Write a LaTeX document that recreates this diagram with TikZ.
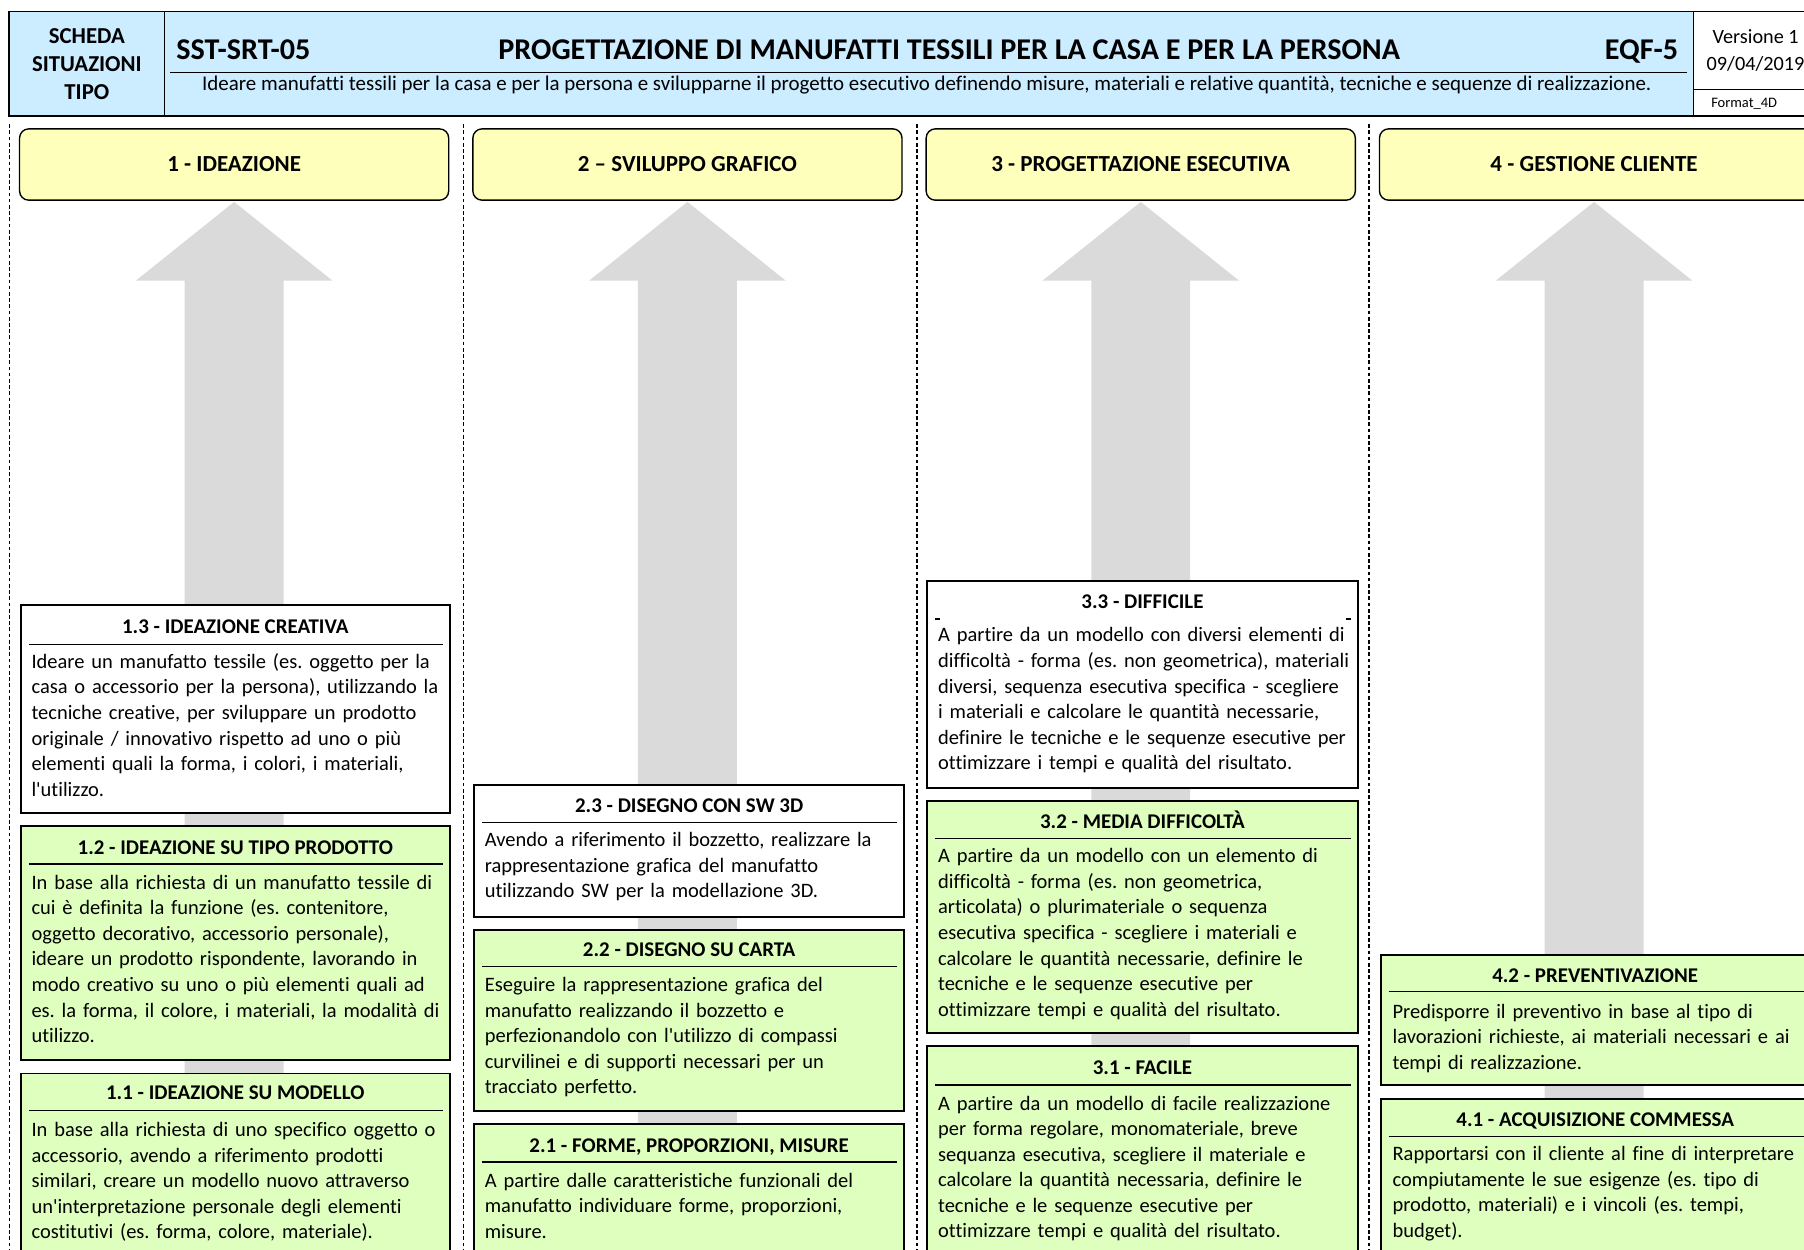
\documentclass[tikz,border=0pt]{standalone}
\usepackage{fontspec}
\defaultfontfeatures{}
\defaultfontfeatures[\rmfamily]{}
\setmainfont{Carlito}[Ligatures={NoCommon,NoContextual}]
\usetikzlibrary{positioning,fit}
\definecolor{hc}{RGB}{204,236,255}
\definecolor{yc}{RGB}{255,255,188}
\definecolor{gc}{RGB}{223,255,191}
\definecolor{ag}{RGB}{218,218,218}
\tikzset{stagebox/.style={draw,line width=.8pt,inner sep=0pt},
 wbox/.style={stagebox,fill=white},gbox/.style={stagebox,fill=gc},
 phase/.style={draw,line width=.6pt,fill=yc,rounded corners=4pt,inner sep=0pt},
 phtxt/.style={font=\fontsize{10}{12}\selectfont\bfseries},
 hdr/.style={draw,line width=.7pt,fill=hc,inner sep=0pt},
 ttl/.style={anchor=base,inner sep=0pt,font=\fontsize{9.1}{11}\selectfont\bfseries},
 body/.style={anchor=base west,align=left,text width=200pt,inner sep=0pt,font=\fontsize{8.9}{11.1}\selectfont},
 big/.style={inner sep=0pt,font=\fontsize{13.1}{15}\selectfont\bfseries},
 rule/.style={line width=.6pt},
 sep/.style={line width=.6pt,dash pattern=on 1.6pt off 1.1pt},
 every node/.style={inner sep=0pt}}
\frenchspacing
\begin{document}
\begin{tikzpicture}[x=.5pt,y=-.5pt]
\useasboundingbox (0,0) rectangle (1568,1086);
% header
\node[hdr,fit={(8,10) (143,101)}] (sch) {};
\node[hdr,fit={(143,10) (1472,101)}] (tit) {};
\node[hdr,fill=white,fit={(1472,10) (1600,101)}] (ver) {};
\draw[rule] (148,63)--(1466,63);\draw[rule] (1472,78)--(1600,78);
\node[align=center,font=\fontsize{9.9}{12.2}\selectfont\bfseries] (schtxt) at (sch) {SCHEDA\\SITUAZIONI\\TIPO};
\node[big,anchor=base west] (code) at (153,51.5) {SST-SRT-05};
\node[big,anchor=base] (title) at (825,51.5) {PROGETTAZIONE DI MANUFATTI TESSILI PER LA CASA E PER LA PERSONA};
\node[big,anchor=base east] (eqf) at (1459,51.5) {EQF-5};
\node[anchor=base,font=\fontsize{9.1}{10}\selectfont] (sub) at (805.5,78.5) {Ideare manufatti tessili per la casa e per la persona e svilupparne il progetto esecutivo definendo misure, materiali e relative quantità, tecniche e sequenze di realizzazione.};
\node[anchor=base,font=\fontsize{8.8}{10}\selectfont] (vers) at (1526,37.5) {Versione 1};
\node[anchor=base west,font=\fontsize{8.8}{10}\selectfont] (date) at (1483,61) {09/04/2019};
\node[anchor=base,font=\fontsize{6.3}{8}\selectfont] (fmt) at (1516,93.5) {Format\_4D};
% column separators and arrows
\foreach \sx in {8,403,797,1190} \draw[sep] (\sx,108)--(\sx,1090);
\foreach \cx in {203.5,597.5,991.5,1385.5}
 \fill[ag] (\cx-43,1090)--(\cx-43,244)--(\cx-85.5,244)--(\cx,175.5)--(\cx+85.5,244)--(\cx+43,244)--(\cx+43,1090)--cycle;
% phases
\node[phase,fit={(17,112) (390,174)}] (p1) {};\node[phtxt] (p1t) at (p1) {1 - IDEAZIONE};
\node[phase,fit={(411,112) (784,174)}] (p2) {};\node[phtxt] (p2t) at (p2) {2 – SVILUPPO GRAFICO};
\node[phase,fit={(805,112) (1178,174)}] (p3) {};\node[phtxt] (p3t) at (p3) {3 - PROGETTAZIONE ESECUTIVA};
\node[phase,fit={(1199,112) (1600,174)}] (p4) {};\node[phtxt] (p4t) at (1385.5,143) {4 - GESTIONE CLIENTE};
% column 1
\node[wbox,fit={(18,526) (391,707)}] (b13) {};
\node[ttl] (t13) at (204.5,551) {1.3 - IDEAZIONE CREATIVA};\draw[rule] (25,560)--(385,560);
\node[body] (x13) at (27,581) {Ideare un manufatto tessile (es. oggetto per la\\casa o accessorio per la persona), utilizzando la\\tecniche creative, per sviluppare un prodotto\\originale / innovativo rispetto ad uno o più\\elementi quali la forma, i colori, i materiali,\\l'utilizzo.};
\node[gbox,fit={(18,718) (391,921)}] (b12) {};
\node[ttl] (t12) at (204.5,743) {1.2 - IDEAZIONE SU TIPO PRODOTTO};\draw[rule] (25,751)--(385,751);
\node[body] (x12) at (27,773) {In base alla richiesta di un manufatto tessile di\\cui è definita la funzione (es. contenitore,\\oggetto decorativo, accessorio personale),\\ideare un prodotto rispondente, lavorando in\\modo creativo su uno o più elementi quali ad\\es. la forma, il colore, i materiali, la modalità di\\utilizzo.};
\node[gbox,fit={(18,933) (391,1095)}] (b11) {};
\node[ttl] (t11) at (204.5,956) {1.1 - IDEAZIONE SU MODELLO};\draw[rule] (25,965)--(385,965);
\node[body] (x11) at (27,988) {In base alla richiesta di uno specifico oggetto o\\accessorio, avendo a riferimento prodotti\\similari, creare un modello nuovo attraverso\\un'interpretazione personale degli elementi\\costitutivi (es. forma, colore, materiale).};
% column 2
\node[wbox,fit={(412,682) (786,797)}] (b23) {};
\node[ttl] (t23) at (599,706) {2.3 - DISEGNO CON SW 3D};\draw[rule] (419,715)--(780,715);
\node[body] (x23) at (421,736) {Avendo a riferimento il bozzetto, realizzare la\\rappresentazione grafica del manufatto\\utilizzando SW per la modellazione 3D.};
\node[gbox,fit={(412,808) (786,966)}] (b22) {};
\node[ttl] (t22) at (599,831) {2.2 - DISEGNO SU CARTA};\draw[rule] (419,840)--(780,840);
\node[body] (x22) at (421,862) {Eseguire la rappresentazione grafica del\\manufatto realizzando il bozzetto e\\perfezionandolo con l'utilizzo di compassi\\curvilinei e di supporti necessari per un\\tracciato perfetto.};
\node[gbox,fit={(412,977) (786,1095)}] (b21) {};
\node[ttl] (t21) at (599,1002) {2.1 - FORME, PROPORZIONI, MISURE};\draw[rule] (419,1010)--(780,1010);
\node[body] (x21) at (421,1032) {A partire dalle caratteristiche funzionali del\\manufatto individuare forme, proporzioni,\\misure.};
% column 3
\node[wbox,fit={(806,505) (1180,685)}] (b33) {};
\node[ttl] (t33) at (993,529) {3.3 - DIFFICILE};\draw[rule] (813,538)--(817,538);\draw[rule] (1170,538)--(1174,538);
\node[body] (x33) at (815,558) {A partire da un modello con diversi elementi di\\difficoltà - forma (es. non geometrica), materiali\\diversi, sequenza esecutiva specifica - scegliere\\i materiali e calcolare le quantità necessarie,\\definire le tecniche e le sequenze esecutive per\\ottimizzare i tempi e qualità del risultato.};
\node[gbox,fit={(806,696) (1180,898)}] (b32) {};
\node[ttl] (t32) at (993,720) {3.2 - MEDIA DIFFICOLTÀ};\draw[rule] (813,729)--(1174,729);
\node[body] (x32) at (815,750) {A partire da un modello con un elemento di\\difficoltà - forma (es. non geometrica,\\articolata) o plurimateriale o sequenza\\esecutiva specifica - scegliere i materiali e\\calcolare le quantità necessarie, definire le\\tecniche e le sequenze esecutive per\\ottimizzare tempi e qualità del risultato.};
\node[gbox,fit={(806,909) (1180,1095)}] (b31) {};
\node[ttl] (t31) at (993,934) {3.1 - FACILE};\draw[rule] (813,943)--(1174,943);
\node[body] (x31) at (815,965) {A partire da un modello di facile realizzazione\\per forma regolare, monomateriale, breve\\sequanza esecutiva, scegliere il materiale e\\calcolare la quantità necessaria, definire le\\tecniche e le sequenze esecutive per\\ottimizzare tempi e qualità del risultato.};
% column 4
\node[gbox,fit={(1200,830) (1600,943)}] (b42) {};
\node[ttl] (t42) at (1386.5,854) {4.2 - PREVENTIVAZIONE};\draw[rule] (1207,862)--(1600,862);
\node[body] (x42) at (1210,885) {Predisporre il preventivo in base al tipo di\\lavorazioni richieste, ai materiali necessari e ai\\tempi di realizzazione.};
\node[gbox,fit={(1200,955) (1600,1095)}] (b41) {};
\node[ttl] (t41) at (1386.5,979) {4.1 - ACQUISIZIONE COMMESSA};\draw[rule] (1207,988)--(1600,988);
\node[body] (x41) at (1210,1009) {Rapportarsi con il cliente al fine di interpretare\\compiutamente le sue esigenze (es. tipo di\\prodotto, materiali) e i vincoli (es. tempi,\\budget).};
\end{tikzpicture}
\end{document}
